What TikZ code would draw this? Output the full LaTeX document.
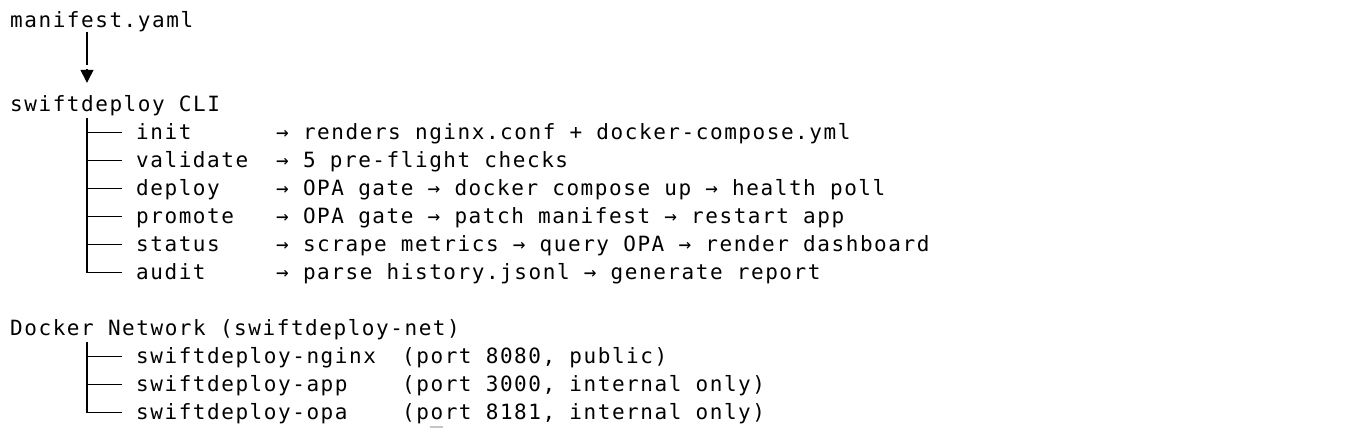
\documentclass[tikz,border=0pt]{standalone}
\usepackage{fontspec}
\usetikzlibrary{arrows.meta}
\newfontfamily\codefont[LetterSpace=7.4]{DejaVu Sans Mono}

\tikzstyle{txt}    = [anchor=base west, inner sep=0pt, text height=14pt, text depth=0pt, font=\codefont\fontsize{21pt}{28pt}\selectfont]
\tikzstyle{branch} = [line width=1.4pt, shorten >=14pt]
\tikzstyle{stem}   = [line width=1.4pt, shorten >=32.5pt]
\tikzstyle{head}   = [-{Triangle[length=13pt,width=13pt]}, line width=1.4pt, shorten >=14.5pt]

\begin{document}
\begin{tikzpicture}[x=1pt,y=-1pt]
  \path[fill=white,use as bounding box] (0,0) rectangle (1356,428);
  \node at (10,27.5) (manifest) [txt] {manifest.yaml};
  \node at (10,111.5) (cli) [txt] {swiftdeploy CLI};
  \coordinate (m-stem) at ([xshift=77pt,yshift=-4.5pt]manifest.base west);
  \draw[stem] (m-stem) -- (m-stem |- cli.north);
  \draw[head] ([yshift=28pt]m-stem |- cli.north) -- (m-stem |- cli.north);
  % commands
  \node at (136,139.5) (init) [txt] {init};
  \node at (276,139.5) (init-d) [txt] {→ renders nginx.conf + docker-compose.yml};
  \node at (136,167.5) (validate) [txt] {validate};
  \node at (276,167.5) (validate-d) [txt] {→ 5 pre-flight checks};
  \node at (136,195.5) (deploy) [txt] {deploy};
  \node at (276,195.5) (deploy-d) [txt] {→ OPA gate → docker compose up → health poll};
  \node at (136,223.5) (promote) [txt] {promote};
  \node at (276,223.5) (promote-d) [txt] {→ OPA gate → patch manifest → restart app};
  \node at (136,251.5) (status) [txt] {status};
  \node at (276,251.5) (status-d) [txt] {→ scrape metrics → query OPA → render dashboard};
  \node at (136,279.5) (audit) [txt] {audit};
  \node at (276,279.5) (audit-d) [txt] {→ parse history.jsonl → generate report};
  \coordinate (cli-stem) at ([xshift=77pt,yshift=-6.5pt]cli.base west);
  \draw[branch] (cli-stem |- init) -- (init);
  \draw[branch] (cli-stem |- validate) -- (validate);
  \draw[branch] (cli-stem |- deploy) -- (deploy);
  \draw[branch] (cli-stem |- promote) -- (promote);
  \draw[branch] (cli-stem |- status) -- (status);
  \draw[branch] (cli-stem) |- (audit);
  % containers
  \node at (10,335.5) (net) [txt] {Docker Network (swiftdeploy-net)};
  \node at (136,363.5) (nginx) [txt] {swiftdeploy-nginx};
  \node at (402,363.5) (nginx-p) [txt] {(port 8080, public)};
  \node at (136,391.5) (app) [txt] {swiftdeploy-app};
  \node at (402,391.5) (app-p) [txt] {(port 3000, internal only)};
  \node at (136,419.5) (opa) [txt] {swiftdeploy-opa};
  \node at (402,419.5) (opa-p) [txt] {(port 8181, internal only)};
  \coordinate (net-stem) at ([xshift=77pt,yshift=-6.5pt]net.base west);
  \draw[branch] (net-stem |- nginx) -- (nginx);
  \draw[branch] (net-stem |- app) -- (app);
  \draw[branch] (net-stem) |- (opa);
  \fill[gray!45] (430,425.5) rectangle (443,428);
\end{tikzpicture}
\end{document}
